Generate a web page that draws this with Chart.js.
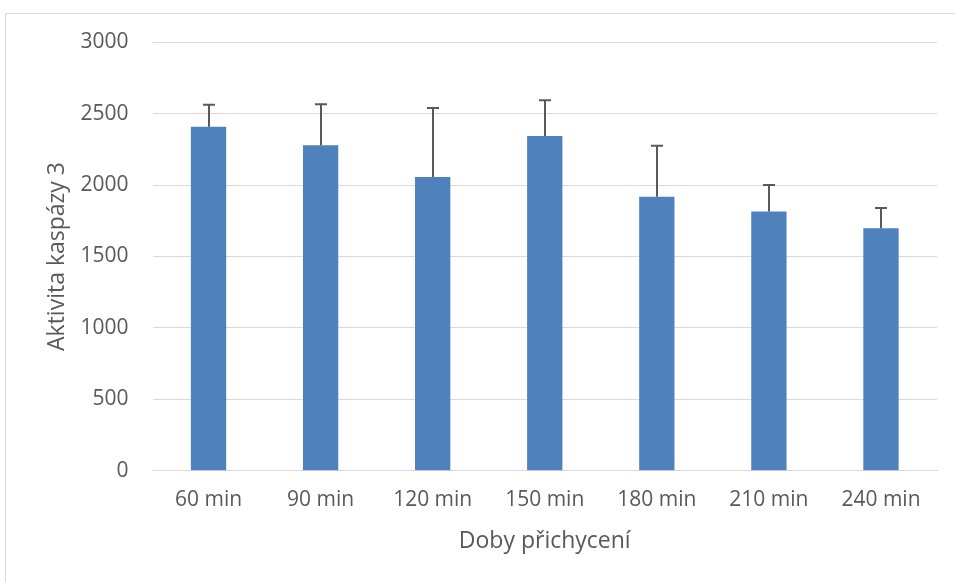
<!DOCTYPE html>
<html>
<head>
<meta charset="utf-8">
<script src="https://cdn.jsdelivr.net/npm/chart.js@4/dist/chart.umd.min.js"></script>
<style>
  html, body { margin: 0; padding: 0; background: #fff; }
  #wrap { width: 955px; height: 582px; position: relative; }
</style>
</head>
<body>
<div id="wrap"><canvas id="c" width="955" height="582"></canvas></div>
<script>
const categories = ["60 min", "90 min", "120 min", "150 min", "180 min", "210 min", "240 min"];
const meanValues = [2409, 2279, 2057, 2344, 1919, 1816, 1697];
const errorValues = [154, 287, 483, 250, 357, 185, 143];
const yTicks = [0, 500, 1000, 1500, 2000, 2500, 3000];
const xTitle = "Doby přichycení";
const yTitle = "Aktivita kaspázy 3";

const textColor = "#595959";
const fontFamily = "'Open Sans', 'DejaVu Sans', sans-serif";

const framePlugin = {
  id: "frame",
  beforeDraw(chart) {
    const ctx = chart.ctx;
    ctx.save();
    ctx.fillStyle = "#fff";
    ctx.fillRect(0, 0, chart.width, chart.height);
    ctx.strokeStyle = "#d9d9d9";
    ctx.lineWidth = 1;
    ctx.strokeRect(5.5, 13.5, 1200, 1200);
    ctx.restore();
  }
};

const errorBarPlugin = {
  id: "errorBars",
  afterDatasetsDraw(chart) {
    const ctx = chart.ctx;
    const meta = chart.getDatasetMeta(0);
    const yScale = chart.scales.y;
    ctx.save();
    ctx.strokeStyle = "#595959";
    ctx.lineWidth = 2;
    meta.data.forEach((bar, i) => {
      const x = Math.round(bar.x);
      const yTop = yScale.getPixelForValue(meanValues[i] + errorValues[i]);
      const yBase = yScale.getPixelForValue(meanValues[i]);
      ctx.beginPath();
      ctx.moveTo(x, yBase);
      ctx.lineTo(x, yTop);
      ctx.moveTo(x - 6, yTop);
      ctx.lineTo(x + 6, yTop);
      ctx.stroke();
    });
    ctx.restore();
  }
};

new Chart(document.getElementById("c"), {
  type: "bar",
  data: {
    labels: categories,
    datasets: [{
      data: meanValues,
      backgroundColor: "#4F81BD",
      borderWidth: 0,
      categoryPercentage: 1,
      barPercentage: 0.315
    }]
  },
  options: {
    responsive: false,
    animation: false,
    devicePixelRatio: 1,
    layout: { padding: { top: 42.3, right: 18, left: 0, bottom: 0 } },
    plugins: {
      legend: { display: false },
      tooltip: { enabled: false }
    },
    scales: {
      x: {
        grid: { display: false, drawTicks: false },
        border: { display: true, color: "#d9d9d9", width: 1 },
        ticks: {
          color: textColor,
          font: { family: fontFamily, size: 21 },
          padding: 17,
          maxRotation: 0
        },
        title: {
          display: true,
          text: xTitle,
          color: textColor,
          font: { family: fontFamily, size: 23 },
          padding: { top: 0, bottom: 27 }
        },
        afterFit(scale) { scale.height = 111.3; }
      },
      y: {
        min: 0,
        max: 3000,
        afterBuildTicks(scale) { scale.ticks = yTicks.map(v => ({ value: v })); },
        grid: { color: "#d9d9d9", lineWidth: 1, drawTicks: false },
        border: { display: false },
        ticks: {
          color: textColor,
          font: { family: fontFamily, size: 21 },
          padding: 24,
          callback: (v) => String(v)
        },
        title: {
          display: true,
          text: yTitle,
          color: textColor,
          font: { family: fontFamily, size: 23 },
          padding: { top: 44, bottom: 0 }
        },
        afterFit(scale) { scale.width = 152.5; }
      }
    }
  },
  plugins: [framePlugin, errorBarPlugin]
});
</script>
</body>
</html>
